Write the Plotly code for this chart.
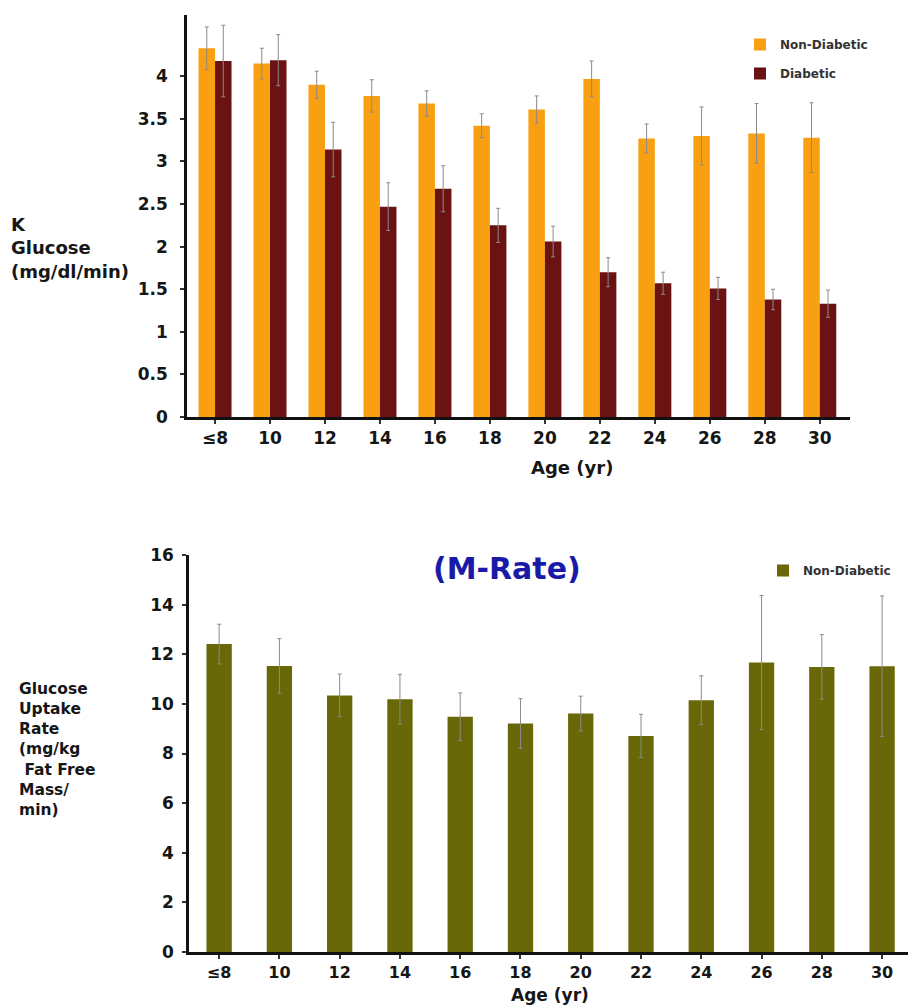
import plotly.graph_objects as go

ages = ["≤8", "10", "12", "14", "16", "18", "20", "22", "24", "26", "28", "30"]

k_nondiab = [4.33, 4.15, 3.90, 3.77, 3.68, 3.42, 3.61, 3.97, 3.27, 3.30, 3.33, 3.28]
k_nondiab_err = [0.25, 0.18, 0.16, 0.19, 0.15, 0.14, 0.16, 0.21, 0.17, 0.34, 0.35, 0.41]
k_diab = [4.18, 4.19, 3.14, 2.47, 2.68, 2.25, 2.06, 1.70, 1.57, 1.51, 1.38, 1.33]
k_diab_err = [0.42, 0.30, 0.32, 0.28, 0.27, 0.20, 0.18, 0.17, 0.13, 0.13, 0.12, 0.16]

m_rate = [12.41, 11.53, 10.34, 10.19, 9.48, 9.21, 9.61, 8.71, 10.15, 11.67, 11.49, 11.52]
m_rate_err = [0.80, 1.10, 0.86, 1.00, 0.96, 1.00, 0.70, 0.87, 0.98, 2.70, 1.30, 2.83]

k_ticks = [0, 0.5, 1, 1.5, 2, 2.5, 3, 3.5, 4]
m_ticks = [0, 2, 4, 6, 8, 10, 12, 14, 16]

ORANGE = "#F8A012"
DARKRED = "#6B1212"
OLIVE = "#696808"
FONT = "DejaVu Sans"
INK = "#161616"

W, H = 908, 1007


def py(p):
    return 1 - p / H


def px(p):
    return p / W


def bold(size, color=INK):
    return dict(family=FONT, size=size, color=color, weight="bold")


fig = go.Figure()

err_style = dict(type="data", color="#8a8a8a", thickness=1, width=2)

fig.add_trace(go.Bar(
    x=ages, y=k_nondiab, name="Non-Diabetic", marker=dict(color=ORANGE, line=dict(width=0)),
    error_y=dict(array=k_nondiab_err, **err_style), xaxis="x", yaxis="y", legend="legend"))
fig.add_trace(go.Bar(
    x=ages, y=k_diab, name="Diabetic", marker=dict(color=DARKRED, line=dict(width=0)),
    error_y=dict(array=k_diab_err, **err_style), xaxis="x", yaxis="y", legend="legend2"))
fig.add_trace(go.Bar(
    x=ages, y=m_rate, name="Non-Diabetic", marker=dict(color=OLIVE, line=dict(width=0)),
    error_y=dict(array=m_rate_err, **err_style), xaxis="x2", yaxis="y2", legend="legend3",
    width=0.42))

axis_common = dict(showline=True, linecolor="#111111", linewidth=2.5, showgrid=False,
                   zeroline=False, ticks="outside", ticklen=4,
                   tickcolor="#333333", tickwidth=1.5, automargin=False)

legfont = bold(12, "#333333")

fig.update_layout(
    width=W, height=H,
    margin=dict(l=0, r=0, t=0, b=0, autoexpand=False),
    paper_bgcolor="white", plot_bgcolor="white",
    barmode="group", bargap=0.4, bargroupgap=0.0,
    xaxis=dict(domain=[px(187), px(850)], range=[-0.51, 11.55], anchor="y",
               tickfont=bold(17), **axis_common),
    yaxis=dict(domain=[py(417), py(15)], range=[0, 4.72], tickvals=k_ticks,
               ticktext=[("%g" % v) for v in k_ticks], anchor="x", tickfont=bold(17),
               ticklabelstandoff=9, **axis_common),
    xaxis2=dict(domain=[px(189), 1.0], range=[-0.5, 11.43], anchor="y2",
                tickfont=bold(16), **axis_common),
    yaxis2=dict(domain=[py(952), py(555)], range=[0, 16], tickvals=m_ticks, anchor="x2",
                tickfont=bold(17), ticklabelstandoff=5, **axis_common),
    legend=dict(x=px(740), y=py(30), xanchor="left", yanchor="top", font=legfont,
                bgcolor="rgba(0,0,0,0)", itemwidth=30),
    legend2=dict(x=px(740), y=py(59), xanchor="left", yanchor="top", font=legfont,
                 bgcolor="rgba(0,0,0,0)", itemwidth=30),
    legend3=dict(x=px(763), y=py(556), xanchor="left", yanchor="top", font=legfont,
                 bgcolor="rgba(0,0,0,0)", itemwidth=30),
    showlegend=True,
)

fig.add_annotation(text="K<br>Glucose<br>(mg/dl/min)", x=px(9), y=py(248), xref="paper", yref="paper",
                   xanchor="left", yanchor="middle", align="left", showarrow=False, font=bold(18))
fig.add_annotation(text="Age (yr)", x=px(572), y=py(467), xref="paper", yref="paper",
                   xanchor="center", yanchor="middle", showarrow=False, font=bold(18))
fig.add_annotation(text="Glucose<br>Uptake<br>Rate<br>(mg/kg<br> Fat Free<br>Mass/<br>min)",
                   x=px(17), y=py(749), xref="paper", yref="paper",
                   xanchor="left", yanchor="middle", align="left", showarrow=False,
                   font=bold(15.5))
fig.add_annotation(text="Age (yr)", x=px(550), y=py(995), xref="paper", yref="paper",
                   xanchor="center", yanchor="middle", showarrow=False, font=bold(17))
fig.add_annotation(text="(M-Rate)", x=px(507), y=py(568), xref="paper", yref="paper",
                   xanchor="center", yanchor="middle", showarrow=False,
                   font=bold(30, "#1a1aa8"))

fig.write_html("out.html", config={"displayModeBar": False},
               post_script="document.body.style.margin='0';document.body.style.overflow='hidden';")
